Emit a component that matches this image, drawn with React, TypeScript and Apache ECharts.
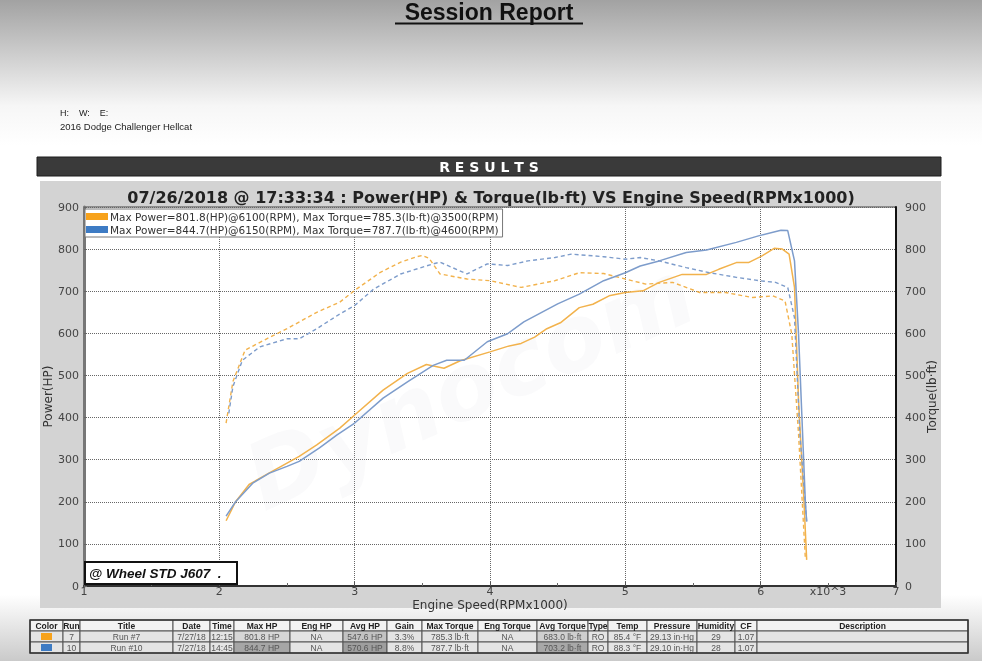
import React, { useEffect, useRef } from 'react';
import * as echarts from 'echarts';

// ---------- data ----------
const run7Rpm = [2.05, 2.12, 2.22, 2.35, 2.5, 2.59, 2.72, 2.89, 3.0, 3.21, 3.39, 3.53, 3.66, 3.78, 4.0, 4.13, 4.23, 4.33, 4.42, 4.52, 4.66, 4.76, 4.88, 5.0, 5.13, 5.25, 5.42, 5.6, 5.69, 5.82, 5.91, 6.01, 6.1, 6.16, 6.21, 6.25, 6.28, 6.32, 6.34];
const run7Power = [155, 200, 241, 265, 292, 308, 335, 375, 406, 465, 505, 526, 517, 535, 556, 569, 576, 591, 611, 625, 661, 669, 689, 697, 701, 721, 740, 740, 752, 768, 768, 784, 802, 800, 788, 709, 439, 201, 62];
const run7TqRpm = [2.05, 2.1, 2.19, 2.35, 2.5, 2.72, 2.89, 3.0, 3.19, 3.34, 3.46, 3.5, 3.55, 3.63, 3.83, 4.0, 4.23, 4.48, 4.66, 4.84, 5.0, 5.15, 5.35, 5.55, 5.74, 5.94, 6.09, 6.18, 6.23, 6.28, 6.33];
const run7Torque = [387, 485, 560, 587, 611, 650, 674, 702, 745, 769, 782, 785, 778, 741, 729, 725, 709, 725, 744, 742, 729, 717, 721, 697, 697, 685, 689, 677, 598, 360, 66];
const run10Rpm = [2.05, 2.12, 2.25, 2.37, 2.5, 2.59, 2.74, 2.87, 3.0, 3.21, 3.39, 3.58, 3.68, 3.81, 3.98, 4.13, 4.25, 4.5, 4.66, 4.84, 5.0, 5.11, 5.25, 5.45, 5.6, 5.82, 5.99, 6.15, 6.2, 6.25, 6.28, 6.33, 6.34];
const run10Power = [166, 200, 245, 268, 284, 296, 328, 359, 387, 446, 485, 524, 536, 536, 580, 599, 627, 670, 693, 725, 744, 760, 772, 792, 798, 816, 832, 845, 844, 772, 598, 201, 153];
const run10TqRpm = [2.07, 2.1, 2.17, 2.3, 2.5, 2.59, 2.72, 2.89, 3.0, 3.14, 3.34, 3.58, 3.63, 3.83, 3.98, 4.13, 4.28, 4.48, 4.6, 4.84, 5.0, 5.11, 5.25, 5.45, 5.62, 5.82, 5.99, 6.11, 6.2, 6.25, 6.29, 6.34];
const run10Torque = [410, 473, 536, 568, 587, 587, 611, 646, 666, 705, 741, 765, 769, 741, 765, 761, 772, 780, 788, 782, 776, 780, 772, 756, 744, 733, 725, 721, 709, 637, 360, 153];

const legendLabels = [
  'Max Power=801.8(HP)@6100(RPM), Max Torque=785.3(lb·ft)@3500(RPM)',
  'Max Power=844.7(HP)@6150(RPM), Max Torque=787.7(lb·ft)@4600(RPM)',
];

const tableHeaders = ['Color', 'Run', 'Title', 'Date', 'Time', 'Max HP', 'Eng HP', 'Avg HP', 'Gain', 'Max Torque', 'Eng Torque', 'Avg Torque', 'Type', 'Temp', 'Pressure', 'Humidity', 'CF', 'Description'];
const row7 = ['', '7', 'Run #7', '7/27/18', '12:15', '801.8 HP', 'NA', '547.6 HP', '3.3%', '785.3 lb·ft', 'NA', '683.0 lb·ft', 'RO', '85.4 °F', '29.13 in·Hg', '29', '1.07', ''];
const row10 = ['', '10', 'Run #10', '7/27/18', '14:45', '844.7 HP', 'NA', '570.6 HP', '8.8%', '787.7 lb·ft', 'NA', '703.2 lb·ft', 'RO', '88.3 °F', '29.10 in·Hg', '28', '1.07', ''];

// ---------- layout / style ----------
const ORANGE = '#f7a21b';
const BLUE = '#3d7bc4';
const ORANGE_LINE = '#f2b24c';
const BLUE_LINE = '#7d9ccb';
const colEdges = [30, 63, 80, 173, 210, 234, 290, 343, 387, 422, 478, 537, 588, 608, 647, 697, 735, 757, 968];
const rowTops = [620, 631, 642];
const rowH = 11;
const cellShade: Record<string, string> = {
  '1-5': '#d6d6d6', '1-7': '#c2c2c2', '1-11': '#cfcfcf',
  '2-5': '#a6a6a6', '2-7': '#9e9e9e', '2-11': '#a8a8a8',
};
const NARROW = "'Liberation Sans Narrow', 'Arial Narrow', 'Liberation Sans', sans-serif";
const SANS = "'DejaVu Sans', Verdana, sans-serif";

function zip(xs: number[], ys: number[]) {
  return xs.map((x, i) => [x, ys[i]]);
}

function buildTable() {
  const els: any[] = [];
  const rows = [tableHeaders, row7, row10];
  rows.forEach((row, r) => {
    row.forEach((txt, c) => {
      const x0 = colEdges[c];
      const w = colEdges[c + 1] - x0;
      const fill = r === 0 ? '#f3f3f3' : (cellShade[`${r}-${c}`] || '#e4e4e4');
      els.push({
        type: 'rect', z: 10,
        shape: { x: x0, y: rowTops[r], width: w, height: rowH },
        style: { fill, stroke: '#555', lineWidth: 1 },
      });
      if (r > 0 && c === 0) {
        els.push({
          type: 'rect', z: 11,
          shape: { x: x0 + 11, y: rowTops[r] + 2, width: 11, height: 7 },
          style: { fill: r === 1 ? ORANGE : BLUE },
        });
      } else if (txt) {
        els.push({
          type: 'text', z: 11,
          x: x0 + w / 2, y: rowTops[r] + rowH / 2 + 0.5,
          style: {
            text: txt, align: 'center', verticalAlign: 'middle',
            font: `${r === 0 ? 'bold ' : ''}8.5px ${NARROW}`,
            fill: r === 0 ? '#222' : '#555',
          },
        });
      }
    });
  });
  els.push({
    type: 'rect', z: 12,
    shape: { x: colEdges[0], y: rowTops[0], width: colEdges[colEdges.length - 1] - colEdges[0], height: rowH * 3 },
    style: { fill: 'none', stroke: '#333', lineWidth: 1.5 },
  });
  return els;
}

export default function App() {
  const ref = useRef<HTMLDivElement>(null);
  useEffect(() => {
    if (!ref.current) return;
    const chart = echarts.init(ref.current, undefined, { renderer: 'svg' });
    const tickLabel = { fontSize: 11, color: '#444', fontFamily: SANS };
    const dotted = { type: 'dotted' as const, color: '#666', width: 1 };
    const option: any = {
      animation: false,
      title: {
        text: '07/26/2018 @ 17:33:34 : Power(HP) & Torque(lb·ft) VS Engine Speed(RPMx1000)',
        left: 'center', top: 184,
        textStyle: { fontSize: 16, fontWeight: 'bold', color: '#222', fontFamily: SANS },
      },
      legend: {
        left: 85, top: 209, orient: 'vertical', selectedMode: false,
        backgroundColor: '#fff', borderColor: '#777', borderWidth: 1,
        padding: [2, 4, 2, 1], itemGap: 2, itemWidth: 22, itemHeight: 7, icon: 'rect',
        textStyle: { fontSize: 10.5, color: '#333', fontFamily: SANS, padding: [0, 0, 0, -3] },
        data: [
          { name: legendLabels[0], itemStyle: { color: ORANGE } },
          { name: legendLabels[1], itemStyle: { color: BLUE } },
        ],
        z: 6,
      },
      grid: {
        left: 84, right: 86, top: 207, bottom: 75,
        show: true, backgroundColor: '#fff', borderColor: '#444', borderWidth: 1,
      },
      xAxis: {
        type: 'value', min: 1, max: 7, interval: 1,
        name: 'Engine Speed(RPMx1000)', nameLocation: 'middle', nameGap: 13,
        nameMoveOverlap: false,
        nameTextStyle: { fontSize: 12, color: '#333', fontFamily: SANS },
        axisLine: { show: true, lineStyle: { color: '#333', width: 2 } },
        axisTick: { show: true, inside: true, length: 4, lineStyle: { color: '#555' } },
        minorTick: { show: true, splitNumber: 2, length: 3, lineStyle: { color: '#666' } },
        axisLabel: { ...tickLabel, margin: 0 },
        splitLine: { show: true, lineStyle: dotted },
      },
      yAxis: [
        {
          type: 'value', min: 0, max: 900, interval: 100, position: 'left',
          name: 'Power(HP)', nameLocation: 'middle', nameGap: 30, nameRotate: 90,
          nameMoveOverlap: false,
          nameTextStyle: { fontSize: 12, color: '#333', fontFamily: SANS },
          axisLine: { show: true, lineStyle: { color: '#777', width: 3 } },
          axisTick: { show: true, inside: true, length: 3, lineStyle: { color: '#666' } },
          minorTick: { show: true, splitNumber: 2, length: 2, lineStyle: { color: '#777' } },
          axisLabel: { ...tickLabel, margin: 5 },
          splitLine: { show: true, lineStyle: dotted },
        },
        {
          type: 'value', min: 0, max: 900, interval: 100, position: 'right',
          name: 'Torque(lb·ft)', nameLocation: 'middle', nameGap: 30, nameRotate: 90,
          nameMoveOverlap: false,
          nameTextStyle: { fontSize: 12, color: '#333', fontFamily: SANS },
          axisLine: { show: true, lineStyle: { color: '#111', width: 2 } },
          axisTick: { show: false },
          axisLabel: { ...tickLabel, margin: 9 },
          splitLine: { show: false },
        },
      ],
      series: [
        {
          name: legendLabels[0], type: 'line', yAxisIndex: 0, data: zip(run7Rpm, run7Power),
          showSymbol: false, symbol: 'none', z: 3,
          itemStyle: { color: ORANGE }, lineStyle: { color: ORANGE_LINE, width: 1.5 },
        },
        {
          name: legendLabels[0], type: 'line', yAxisIndex: 1, data: zip(run7TqRpm, run7Torque),
          showSymbol: false, symbol: 'none', z: 3,
          itemStyle: { color: ORANGE }, lineStyle: { color: ORANGE_LINE, width: 1.4, type: [4, 3] },
        },
        {
          name: legendLabels[1], type: 'line', yAxisIndex: 0, data: zip(run10Rpm, run10Power),
          showSymbol: false, symbol: 'none', z: 3,
          itemStyle: { color: BLUE }, lineStyle: { color: BLUE_LINE, width: 1.5 },
        },
        {
          name: legendLabels[1], type: 'line', yAxisIndex: 1, data: zip(run10TqRpm, run10Torque),
          showSymbol: false, symbol: 'none', z: 3,
          itemStyle: { color: BLUE }, lineStyle: { color: BLUE_LINE, width: 1.4, type: [4, 3] },
        },
      ],
      graphic: [
        {
          type: 'rect', z: -20, silent: true,
          shape: { x: 0, y: 0, width: 982, height: 661 },
          style: {
            fill: new echarts.graphic.LinearGradient(0, 0, 0, 1, [
              { offset: 0, color: '#a2a2a2' },
              { offset: 0.16, color: '#f6f6f6' },
              { offset: 0.22, color: '#ffffff' },
              { offset: 0.9, color: '#ffffff' },
              { offset: 1, color: '#cacaca' },
            ]),
          },
        },
        {
          type: 'text', z: 1, x: 489, y: 12,
          style: {
            text: 'Session Report', align: 'center', verticalAlign: 'middle',
            font: `bold 23px ${NARROW}`, fill: '#111',
          },
        },
        {
          type: 'line', z: 1,
          shape: { x1: 395, y1: 23.5, x2: 583, y2: 23.5 },
          style: { stroke: '#111', lineWidth: 2 },
        },
        {
          type: 'text', z: 1, x: 60, y: 113,
          style: { text: 'H:    W:    E:', verticalAlign: 'middle', font: `9px ${NARROW}`, fill: '#222' },
        },
        {
          type: 'text', z: 1, x: 60, y: 126,
          style: { text: '2016 Dodge Challenger Hellcat', verticalAlign: 'middle', font: `9.5px ${NARROW}`, fill: '#222' },
        },
        {
          type: 'rect', z: 1,
          shape: { x: 37, y: 157, width: 904, height: 19 },
          style: { fill: '#3a3a3a', stroke: '#1c1c1c', lineWidth: 1 },
        },
        {
          type: 'text', z: 2, x: 489, y: 167,
          style: {
            text: 'R E S U L T S', align: 'center', verticalAlign: 'middle',
            font: `bold 14px ${SANS}`, fill: '#ffffff',
          },
        },
        {
          type: 'rect', z: -5,
          shape: { x: 40, y: 181, width: 901, height: 427 },
          style: { fill: '#d3d3d3' },
        },
        {
          type: 'text', z: 1, x: 470, y: 385, rotation: 0.42,
          style: {
            text: 'Dynocom', align: 'center', verticalAlign: 'middle',
            font: `italic bold 92px ${SANS}`, fill: 'rgba(210,210,222,0.12)',
          },
        },
        {
          type: 'text', z: 5, x: 828, y: 591,
          style: { text: 'x10^3', align: 'center', verticalAlign: 'middle', font: `11px ${SANS}`, fill: '#444' },
        },
        {
          type: 'rect', z: 6,
          shape: { x: 85, y: 562, width: 152, height: 22 },
          style: { fill: '#fff', stroke: '#111', lineWidth: 2 },
        },
        {
          type: 'text', z: 7, x: 89, y: 573.5,
          style: {
            text: '@ Wheel STD J607  .', verticalAlign: 'middle',
            font: `italic bold 13.5px 'Liberation Sans', Arial, sans-serif`, fill: '#111',
          },
        },
        ...buildTable(),
      ],
    };
    chart.setOption(option);
    return () => chart.dispose();
  }, []);
  return (
    <div
      ref={ref}
      style={{ position: 'fixed', left: 0, top: 0, width: 982, height: 661 }}
    />
  );
}
